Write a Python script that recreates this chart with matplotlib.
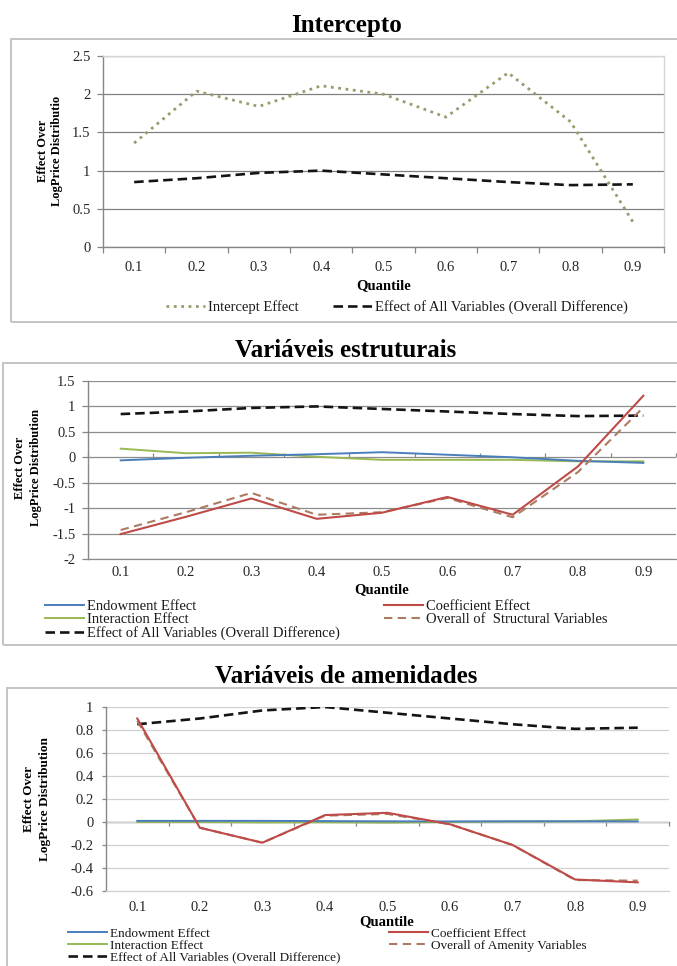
import matplotlib
matplotlib.use('Agg')
import matplotlib.pyplot as plt
from matplotlib.lines import Line2D
from matplotlib.patches import Rectangle

plt.rcParams['font.family'] = ['Liberation Serif', 'DejaVu Serif']

W, H = 677, 966

# ---------------- data ----------------
quantiles = ['0.1', '0.2', '0.3', '0.4', '0.5', '0.6', '0.7', '0.8', '0.9']

overall_diff = [0.85, 0.90, 0.97, 1.00, 0.95, 0.90, 0.85, 0.81, 0.82]
intercept_effect = [1.36, 2.04, 1.84, 2.11, 2.00, 1.70, 2.28, 1.64, 0.33]

struct_endowment = [-0.06, -0.01, 0.03, 0.06, 0.10, 0.05, 0.00, -0.07, -0.11]
struct_coefficient = [-1.51, -1.17, -0.81, -1.21, -1.09, -0.78, -1.13, -0.18, 1.21]
struct_interaction = [0.17, 0.08, 0.09, 0.01, -0.05, -0.05, -0.05, -0.08, -0.08]
struct_overall = [-1.43, -1.08, -0.70, -1.13, -1.08, -0.80, -1.18, -0.29, 0.98]

amen_endowment = [0.010, 0.010, 0.010, 0.008, 0.006, 0.005, 0.006, 0.006, 0.005]
amen_coefficient = [0.90, -0.05, -0.18, 0.06, 0.08, -0.02, -0.20, -0.50, -0.525]
amen_interaction = [0.0, 0.0, -0.004, -0.002, -0.006, 0.0, 0.004, 0.006, 0.022]
amen_overall = [0.88, -0.05, -0.18, 0.055, 0.07, -0.02, -0.20, -0.505, -0.51]

p1_yticks = [0, 0.5, 1, 1.5, 2, 2.5]
p2_yticks = [-2, -1.5, -1, -0.5, 0, 0.5, 1, 1.5]
p3_yticks = [-0.6, -0.4, -0.2, 0, 0.2, 0.4, 0.6, 0.8, 1]

titles = ['Intercepto', 'Variáveis estruturais', 'Variáveis de amenidades']
ylabel_p1 = 'Effect Over\nLogPrice Distributio'
ylabel_p23 = 'Effect Over\nLogPrice Distribution'

# ---------------- styles ----------------
C_BLUE = '#4a7ebb'
C_RED = '#be4b48'
C_GREEN = '#98b954'
C_BROWN = '#ad7a62'
C_OLIVE = '#9d9a6e'
C_BLACK = '#141414'
AX_GRAY = '#868686'
TXT = '#262626'

FS_TICK = 10.5
FS_LEG = 10.5
FS_LEG3 = 9.5

st_all = dict(color=C_BLACK, lw=1.9, ls=(0, (3.6, 1.9)))
st_int = dict(color=C_OLIVE, lw=2.0, ls=(0, (1.0, 1.65)))
st_endow = dict(color=C_BLUE, lw=1.4, ls='-')
st_coef = dict(color=C_RED, lw=1.5, ls='-')
st_inter = dict(color=C_GREEN, lw=1.4, ls='-')
st_over = dict(color=C_BROWN, lw=1.5, ls=(0, (4.0, 2.6)))

fig = plt.figure(figsize=(W / 100, H / 100), dpi=100)


def fx(x):
    return x / W


def fy(y):
    return 1 - y / H


def px_rect(x0, y0, x1, y1):
    return [x0 / W, 1 - y1 / H, (x1 - x0) / W, (y1 - y0) / H]


def frame(x0, y0, x1, y1):
    fig.patches.append(Rectangle((fx(x0), fy(y1)), (x1 - x0) / W, (y1 - y0) / H,
                                 transform=fig.transFigure, fill=False,
                                 edgecolor='#c4c4c4', lw=1.4, zorder=0))


def make_axes(rect, ylim, yticks, grid_color, zero_axis, xpad, ypad,
              ytick_len, fs_tick, top_right_color=None):
    ax = fig.add_axes(rect)
    x = list(range(len(quantiles)))
    ax.set_xlim(-0.5, len(quantiles) - 0.5)
    ax.set_ylim(*ylim)
    ax.set_yticks(yticks)
    ax.set_yticklabels([format(v, 'g') for v in yticks], fontsize=fs_tick, color=TXT)
    ax.tick_params(axis='y', length=ytick_len, width=0.9, color=AX_GRAY, pad=ypad)
    # category labels at centers (minor), tick marks at boundaries (major)
    ax.set_xticks([i - 0.5 for i in range(len(quantiles) + 1)])
    ax.set_xticklabels([''] * (len(quantiles) + 1))
    ax.set_xticks(x, minor=True)
    ax.set_xticklabels(quantiles, minor=True, fontsize=fs_tick, color=TXT)
    ax.tick_params(axis='x', which='minor', length=0, pad=xpad)
    ax.yaxis.grid(True, color=grid_color, lw=0.9)
    ax.set_axisbelow(True)
    ax.spines['left'].set_color(AX_GRAY)
    ax.spines['left'].set_linewidth(1.0)
    if zero_axis:
        ax.tick_params(axis='x', which='major', length=0)
        ax.spines['bottom'].set_color(grid_color)
        ax.spines['bottom'].set_linewidth(0.9)
        loc = (0 - ylim[0]) / (ylim[1] - ylim[0])
        sec = ax.secondary_xaxis(loc)
        sec.set_xticks([i - 0.5 for i in range(len(quantiles) + 1)])
        sec.set_xticklabels([''] * (len(quantiles) + 1))
        sec.tick_params(axis='x', length=3, width=0.9, color=AX_GRAY)
        sec.spines['bottom'].set_color(AX_GRAY)
        sec.spines['bottom'].set_linewidth(1.0)
        for s in ['top', 'left', 'right']:
            sec.spines[s].set_visible(False)
    else:
        ax.tick_params(axis='x', which='major', length=4, width=0.9, color=AX_GRAY)
        ax.spines['bottom'].set_color(AX_GRAY)
        ax.spines['bottom'].set_linewidth(1.0)
    if top_right_color:
        for s in ['top', 'right']:
            ax.spines[s].set_color(top_right_color)
            ax.spines[s].set_linewidth(1.0)
    else:
        for s in ['top', 'right']:
            ax.spines[s].set_visible(False)
    ax.set_facecolor('white')
    return ax, x


def legend_entry(style, label, x, y, fs):
    h = Line2D([], [], **style)
    fpx = fs * 100 / 72
    fig.legend(handles=[h], labels=[label], loc='center left',
               bbox_to_anchor=(fx(x), fy(y)), frameon=False, borderpad=0,
               borderaxespad=0, handlelength=39 / fpx, handletextpad=3 / fpx,
               fontsize=fs, labelcolor='#1a1a1a')


# ================= Panel 1 =================
frame(11, 39, 690, 322)
fig.text(fx(346), fy(32), titles[0], ha='center', va='baseline',
         fontsize=18, fontweight='bold')
ax1, x = make_axes(px_rect(103, 56, 664, 247), (0, 2.5), p1_yticks, '#808080',
                   False, 10, 5, 4, FS_TICK, top_right_color='#d6d6d6')
ax1.plot(x, intercept_effect, **st_int)
ax1.plot(x, overall_diff, **st_all)
fig.text(fx(383.5), fy(286), 'Quantile', ha='center', va='center',
         fontsize=10.5, fontweight='bold')
fig.text(fx(50), fy(151), ylabel_p1, ha='center', va='center', rotation=90,
         fontsize=9, fontweight='bold', linespacing=1.2)
legend_entry(st_int, 'Intercept Effect', 166, 307, FS_LEG)
legend_entry(st_all, 'Effect of All Variables (Overall Difference)', 333, 307, FS_LEG)

# ================= Panel 2 =================
frame(3, 363, 690, 645)
fig.text(fx(345.5), fy(357), titles[1], ha='center', va='baseline',
         fontsize=18, fontweight='bold')
ax2, x = make_axes(px_rect(88, 381, 676, 559), (-2, 1.5), p2_yticks, '#8c8c8c',
                   True, 5, 5, 4, FS_TICK)
ax2.plot(x, overall_diff, **st_all)
ax2.plot(x, struct_interaction, **st_inter)
ax2.plot(x, struct_endowment, **st_endow)
ax2.plot(x, struct_overall, **st_over)
ax2.plot(x, struct_coefficient, **st_coef)
fig.text(fx(382), fy(590), 'Quantile', ha='center', va='center',
         fontsize=10.5, fontweight='bold')
fig.text(fx(28), fy(468), ylabel_p23, ha='center', va='center', rotation=90,
         fontsize=9, fontweight='bold', linespacing=1.35)
legend_entry(st_endow, 'Endowment Effect', 45, 606, FS_LEG)
legend_entry(st_inter, 'Interaction Effect', 45, 619.5, FS_LEG)
legend_entry(st_all, 'Effect of All Variables (Overall Difference)', 45, 633, FS_LEG)
legend_entry(st_coef, 'Coefficient Effect', 384, 606, FS_LEG)
legend_entry(st_over, 'Overall of  Structural Variables', 384, 619.5, FS_LEG)

# ================= Panel 3 =================
frame(7, 688, 690, 990)
fig.text(fx(346.5), fy(683), titles[2], ha='center', va='baseline',
         fontsize=18, fontweight='bold')
ax3, x = make_axes(px_rect(106, 707, 669, 891), (-0.6, 1.0), p3_yticks, '#d0d0d0',
                   True, 7, 6, 3, FS_TICK)
ax3.plot(x, overall_diff, **st_all)
ax3.plot(x, amen_interaction, **st_inter)
ax3.plot(x, amen_endowment, **st_endow)
ax3.plot(x, amen_overall, **st_over)
ax3.plot(x, amen_coefficient, **st_coef)
fig.text(fx(387), fy(922), 'Quantile', ha='center', va='center',
         fontsize=10.5, fontweight='bold')
fig.text(fx(37), fy(799), ylabel_p23, ha='center', va='center', rotation=90,
         fontsize=9.5, fontweight='bold', linespacing=1.35)
legend_entry(st_endow, 'Endowment Effect', 68, 933.5, FS_LEG3)
legend_entry(st_inter, 'Interaction Effect', 68, 945.5, FS_LEG3)
legend_entry(st_all, 'Effect of All Variables (Overall Difference)', 68, 957.5, FS_LEG3)
legend_entry(st_coef, 'Coefficient Effect', 389, 933.5, FS_LEG3)
legend_entry(st_over, 'Overall of Amenity Variables', 389, 945.5, FS_LEG3)

fig.savefig('out.png', dpi=100)
